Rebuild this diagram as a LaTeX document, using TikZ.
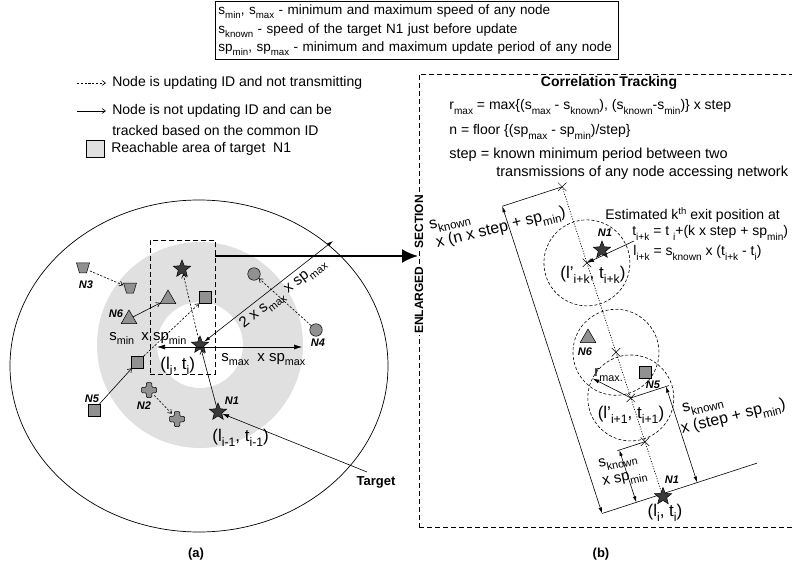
\documentclass[tikz,border=0pt]{standalone}
\usepackage{fontspec}
\usepackage{graphicx}
\setmainfont{Liberation Sans}
\usetikzlibrary{arrows.meta,shapes.geometric,shapes.misc,calc}
\definecolor{areagray}{RGB}{224,224,224}
\definecolor{shapegray}{RGB}{145,145,145}
\definecolor{stargray}{RGB}{58,58,58}
\newcommand{\sbx}[1]{\raisebox{-0.3em}{\scalebox{0.72}{#1}}}
\newcommand{\spx}[1]{\raisebox{0.42em}{\scalebox{0.68}{#1}}}
\begin{document}
\begin{tikzpicture}[x=1pt,y=-1pt,line width=0.7pt,
  txt/.style={font=\fontsize{14}{17}\selectfont, inner sep=0pt},
  rtxt/.style={font=\fontsize{14.5}{17}\selectfont, inner sep=0pt},
  etxt/.style={font=\fontsize{14}{17}\selectfont, inner sep=0pt},
  bigt/.style={font=\fontsize{15}{18}\selectfont, inner sep=0pt},
  dimt/.style={font=\fontsize{16}{19}\selectfont, inner sep=0pt},
  hugt/.style={font=\fontsize{17}{20}\selectfont, inner sep=0pt},
  nlab/.style={font=\fontsize{11}{13}\selectfont\bfseries\itshape, inner sep=0pt},
  boldt/.style={font=\fontsize{13}{15}\selectfont\bfseries, inner sep=0pt},
  starn/.style={star, star points=5, star point ratio=2.3, minimum size=18pt, inner sep=0pt, fill=stargray, draw=black, line width=0.5pt},
  sqn/.style={rectangle, minimum size=12pt, inner sep=0pt, fill=shapegray, draw=black, line width=0.5pt},
  trin/.style={regular polygon, regular polygon sides=3, minimum size=18pt, inner sep=0pt, fill=shapegray, draw=black, line width=0.5pt},
  cirn/.style={circle, minimum size=12.5pt, inner sep=0pt, fill=shapegray, draw=black, line width=0.5pt},
  hold/.style={circle, minimum size=14pt, inner sep=0pt},
  shp/.style={fill=shapegray, draw=black, line width=0.5pt},
  mv/.style={line width=0.6pt, -{Straight Barb[length=3.5pt,width=5pt]}},
  mvd/.style={mv, dash pattern=on 2.2pt off 1.6pt},
  dimar/.style={line width=0.6pt, {Latex[length=6pt,width=3.5pt]}-{Latex[length=6pt,width=3.5pt]}},
  onear/.style={line width=0.6pt, -{Latex[length=7pt,width=4pt]}},
  xmark/.style={cross out, draw=black, line width=0.5pt, minimum size=8pt, inner sep=0pt},
  dcirc/.style={circle, draw=black, dash pattern=on 3pt off 2pt, line width=0.6pt, minimum size=86pt, inner sep=0pt},
  dashbox/.style={draw=black, dash pattern=on 5pt off 3pt, line width=0.7pt, inner sep=0pt, anchor=north west},
]
\useasboundingbox (0,0) rectangle (792,569);

% ---------- top legend ----------
\node[draw, line width=0.8pt, anchor=north west, minimum height=58pt, text width=397pt, inner sep=3pt, align=left, font=\fontsize{13.5}{18.5}\selectfont] (legbox) at (215,1)
 {s\sbx{min}, s\sbx{max} - minimum and maximum speed of any node\\
  s\sbx{known} - speed of the target N1 just before update\\
  sp\sbx{min}, sp\sbx{max} - minimum and maximum update period of any node};

% ---------- left legend ----------
\coordinate (la1) at (77,83); \coordinate (la2) at (106,83);
\draw[mvd] (la1) -- (la2);
\node[txt, anchor=west] (lt1) at (112,83) {Node is updating ID and not transmitting};
\coordinate (lb1) at (77,111); \coordinate (lb2) at (106,111);
\draw[mv] (lb1) -- (lb2);
\node[txt, anchor=west] (lt2) at (112,111) {Node is not updating ID and can be};
\node[txt, anchor=west] (lt3) at (112,130) {tracked based on the common ID};
\node[rectangle, draw=black, fill=areagray, line width=0.6pt, minimum width=18pt, minimum height=17pt, inner sep=0pt] (lgbox) at (95,148.5) {};
\node[txt, anchor=west] (lt4) at (111,149) {Reachable area of target\ \ N1};

% ---------- panel (a) ----------
\fill[areagray, even odd rule] (200,345) circle[radius=103] (200,345) circle[radius=43];
\node[ellipse, draw=black, line width=0.7pt, minimum width=378pt, minimum height=332pt, inner sep=0pt] (bigc) at (199,366) {};
\node[dashbox, minimum width=65pt, minimum height=134pt] (zoomr) at (150,240) {};

\node[starn] (sTop) at (182,269) {};
\node[starn] (sLi) at (200,345) {};
\node[starn] (sN1) at (218,412) {};
\node[nlab] (lN1) at (232,401) {N1};
\node[sqn] (qA) at (205.5,297.5) {};
\node[sqn] (qB) at (137.5,362) {};
\node[sqn] (qN5) at (94,410) {};
\node[nlab] (lN5) at (92,399) {N5};
\node[trin] (tN6) at (129,319) {};
\node[nlab] (lN6) at (116,314) {N6};
\node[trin] (tB) at (168,299) {};
\node[hold] (n3a) at (83,268) {};
\node[hold] (n3b) at (130,288) {};
\draw[shp] (n3a.center) ++(-6.5,-5) -- ++(13,0) -- ++(-3,10) -- ++(-7,0) -- cycle;
\draw[shp] (n3b.center) ++(-6.5,-5) -- ++(13,0) -- ++(-3,10) -- ++(-7,0) -- cycle;
\node[nlab] (lN3) at (86,285) {N3};
\node[hold] (n2a) at (149,390) {};
\node[hold] (n2b) at (177,419) {};
\draw[shp, rounded corners=1pt] (n2a.center) ++(-2.75,-7.5) -- ++(5.5,0) -- ++(0,4.75) -- ++(4.75,0) -- ++(0,5.5) -- ++(-4.75,0) -- ++(0,4.75) -- ++(-5.5,0) -- ++(0,-4.75) -- ++(-4.75,0) -- ++(0,-5.5) -- ++(4.75,0) -- cycle;
\draw[shp, rounded corners=1pt] (n2b.center) ++(-2.75,-7.5) -- ++(5.5,0) -- ++(0,4.75) -- ++(4.75,0) -- ++(0,5.5) -- ++(-4.75,0) -- ++(0,4.75) -- ++(-5.5,0) -- ++(0,-4.75) -- ++(-4.75,0) -- ++(0,-5.5) -- ++(4.75,0) -- cycle;
\node[nlab] (lN2) at (144,406) {N2};
\node[cirn] (cN4) at (316,330) {};
\node[nlab] (lN4) at (318,343) {N4};
\node[cirn] (cB) at (254,274) {};

\draw[mvd] (n3a) -- (n3b);
\draw[mv] (tN6) -- (tB);
\draw[mvd] (qB) -- (qA);
\draw[mv] (qN5) -- (qB);
\draw[mvd] (n2a) -- (n2b);
\draw[mvd] (sLi) -- (sTop);
\draw[mv] (sN1) -- (sLi);
\draw[mvd] (cN4) -- (cB);

\coordinate (hc) at (200,347); \coordinate (hl) at (157,347); \coordinate (hr) at (302,347);
\draw[line width=0.6pt, -{Latex[length=8pt,width=5pt]}] (hc) -- (hl);
\draw[line width=0.6pt, -{Latex[length=8pt,width=5pt]}] (hc) -- (hr);
\coordinate (dg) at (333,241);
\draw[dimar] (sLi) -- (dg) node[pos=0.56, sloped, below=3pt, bigt] (ldg) {2 x s\sbx{max} x sp\sbx{max}};

\node[bigt, anchor=base west] (lsmin) at (109,340) {s\sbx{min}\hspace{3pt} x sp\sbx{min}};
\node[hugt, anchor=base west] (lli) at (160,369) {(l\sbx{i}, t\sbx{i})};
\node[bigt, anchor=base west] (lsmax) at (221,361) {s\sbx{max}\hspace{4pt} x sp\sbx{max}};
\node[hugt, anchor=base west] (lli1) at (212,441) {(l\sbx{i-1}, t\sbx{i-1})};
\node[boldt] (tgt) at (376,482) {Target};
\coordinate (tgs) at (367,472);
\draw[onear] (tgs) -- (sN1);

\coordinate (th1) at (215,256); \coordinate (th2) at (418,256);
\draw[line width=2.2pt, -{Latex[length=16pt,width=14pt]}] (th1) -- (th2);

\node[boldt] (capa) at (196,554) {(a)};
\node[boldt] (capb) at (601,554) {(b)};

% ---------- panel (b) ----------
\node[dashbox, minimum width=385pt, minimum height=453pt] (panel) at (419,74) {};
\node[font=\fontsize{12}{14}\selectfont\bfseries, rotate=90, fill=white, inner sep=1pt] (secw) at (419,222) {SECTION};
\node[font=\fontsize{12}{14}\selectfont\bfseries, rotate=90, fill=white, inner sep=1pt] (enlw) at (419,300) {ENLARGED};

\node[font=\fontsize{14}{17}\selectfont\bfseries, inner sep=0pt] (ct) at (609,83) {Correlation Tracking};
\node[txt, anchor=west] (f1) at (449,107) {r\sbx{max} = max\{(s\sbx{max} - s\sbx{known}), (s\sbx{known}-s\sbx{min})\} x step};
\node[txt, anchor=west] (f2) at (449,132) {n = floor \{(sp\sbx{max} - sp\sbx{min})/step\}};
\node[rtxt, anchor=west] (f3) at (449,155) {step = known minimum period between two};
\node[rtxt, anchor=west] (f4) at (496,173) {transmissions of any node accessing network};

\node[etxt, anchor=west] (e1) at (605,215) {Estimated k\spx{th} exit position at};
\node[etxt, anchor=west] (e2) at (632,233) {t\sbx{i+k} = t \sbx{i}+(k x step + sp\sbx{min})};
\node[etxt, anchor=west] (e3) at (633,253) {l\sbx{i+k} = s\sbx{known} x (t\sbx{i+k} - t\sbx{i})};

\begin{scope}[shift={(662,494)}, rotate=18, y=1pt]
  \coordinate (o) at (0,0);
  \coordinate (bl) at (-63,0);
  \coordinate (br) at (100,0);
  \node[dcirc] (rc1) at (0,101) {};
  \node[dcirc] (rc2) at (0,149) {};
  \node[dcirc] (rc3) at (0,243) {};
  \node[xmark] (x1) at (0,55) {};
  \node[xmark] (x2) at (0,101) {};
  \node[xmark] (x3) at (0,149) {};
  \node[xmark] (x4) at (0,243) {};
  \node[xmark] (x5) at (0,323) {};
  \coordinate (e5) at (-63,323);
  \coordinate (el) at (-29,55);
  \coordinate (er) at (40,101);
  \coordinate (dl0) at (-27,0); \coordinate (dl1) at (-27,55);
  \coordinate (dr0) at (37,0);  \coordinate (dr1) at (37,101);
  \coordinate (rm) at (-30.4,131.4);
  \draw[line width=0.6pt] (bl) -- (br);
  \draw[line width=0.7pt, dash pattern=on 1pt off 1.6pt] (o) -- (x5.center);
  \draw[line width=0.6pt] (x5.center) -- (e5);
  \draw[line width=0.6pt] (x1.center) -- (el);
  \draw[line width=0.6pt] (x2.center) -- (er);
  \draw[dimar] (bl) -- (e5);
  \draw[dimar] (dl0) -- (dl1);
  \draw[dimar] (dr0) -- (dr1);
  \draw[onear] (x2.center) -- (rm);
\end{scope}

\node[starn] (sN1b) at (663,496.5) {};
\node[nlab] (lN1b) at (672,480) {N1};
\node[hugt] (lib) at (665,513) {(l\sbx{i}, t\sbx{i})};
\node[hugt] (li1) at (631,415) {(l'\sbx{i+1}, t\sbx{i+1})};
\node[hugt] (lik) at (593,275) {(l'\sbx{i+k}, t\sbx{i+k})};
\node[bigt, anchor=west] (rml) at (594,375) {r\sbx{max.}};
\node[starn] (sN1r) at (602,250) {};
\node[nlab] (lN1r) at (605,233) {N1};
\node[trin] (tN6r) at (588,338) {};
\node[nlab] (lN6r) at (585,352) {N6};
\node[sqn] (qN5r) at (645,372) {};
\node[nlab] (lN5r) at (653,385) {N5};
\coordinate (ea) at (634,241);
\draw[onear] (ea) -- (x4.center);

\node[dimt, rotate=14, anchor=base west] (dk1) at (430,230) {s\sbx{known}};
\node[dimt, rotate=14, anchor=base west] (dk2) at (437,248) {x (n x step + sp\sbx{min})};
\node[dimt, rotate=14, anchor=base west] (dr1t) at (683,413) {s\sbx{known}};
\node[dimt, rotate=14, anchor=base west] (dr2t) at (682,434) {x (step + sp\sbx{min})};
\node[bigt, rotate=12, anchor=base west] (dl1t) at (599,468) {s\sbx{known}};
\node[bigt, rotate=12, anchor=base west] (dl2t) at (603,486) {x sp\sbx{min}};
\end{tikzpicture}
\end{document}
